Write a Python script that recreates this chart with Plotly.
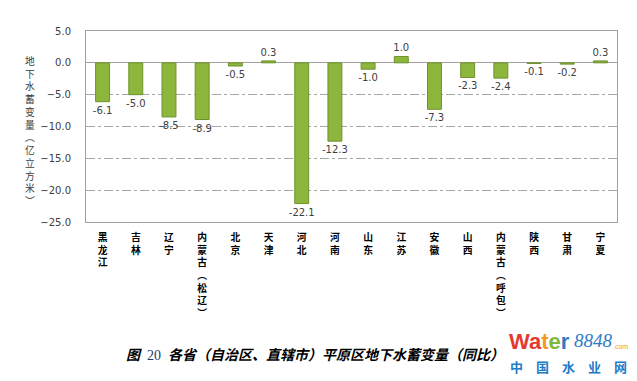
import plotly.graph_objects as go

categories = ["黑龙江", "吉林", "辽宁", "内蒙古︵松辽︶", "北京", "天津", "河北", "河南",
              "山东", "江苏", "安徽", "山西", "内蒙古︵呼包︶", "陕西", "甘肃", "宁夏"]
values = [-6.1, -5.0, -8.5, -8.9, -0.5, 0.3, -22.1, -12.3,
          -1.0, 1.0, -7.3, -2.3, -2.4, -0.1, -0.2, 0.3]
y_title = "地下水蓄变量︵亿立方米︶"
caption_pre = "图\u2002"
caption_num = "20"
caption_text = "\u2002各省（自治区、直辖市）平原区地下水蓄变量（同比）"

tick_labels = ["<b>" + "<br>".join(list(c)) + "</b>" for c in categories]

fig = go.Figure()
fig.add_trace(go.Bar(
    x=list(range(len(categories))),
    y=values,
    marker=dict(color="#8DB63C", line=dict(color="#6F922C", width=1)),
    text=[f"{v:.1f}" for v in values],
    textposition="outside",
    constraintext="none",
    textfont=dict(family="DejaVu Sans", size=10, color="#404040"),
    cliponaxis=False,
    width=0.42,
))

fig.update_layout(
    width=637, height=381,
    margin=dict(l=86, r=20, t=31, b=159),
    plot_bgcolor="white", paper_bgcolor="white",
    showlegend=False,
    xaxis=dict(
        tickmode="array", tickvals=list(range(len(categories))), ticktext=tick_labels,
        tickfont=dict(family="Noto Sans CJK SC", size=9.8, color="#000000"),
        range=[-0.5, len(categories) - 0.5],
        showline=True, linecolor="#A0A0A0", mirror=True, linewidth=1,
        showgrid=False, ticks="", zeroline=False, automargin=False,
        ticklabelstandoff=6,
    ),
    yaxis=dict(
        range=[-25, 5], dtick=5, tickformat=".1f",
        tickfont=dict(family="DejaVu Sans", size=10, color="#404040"),
        showline=True, linecolor="#A0A0A0", mirror=True, linewidth=1,
        showgrid=True, gridcolor="#A6A6A6", griddash="dashdot", gridwidth=1,
        zeroline=True, zerolinecolor="#A0A0A0", zerolinewidth=1,
        ticks="", automargin=False, ticklabelstandoff=12,
    ),
)

# vertical y-axis title, one character per line
fig.add_annotation(
    text="<br>".join(list(y_title)), xref="paper", yref="paper", x=-0.105, y=0.476,
    xanchor="center", yanchor="middle", showarrow=False,
    font=dict(family="Noto Sans CJK SC", size=9.8, color="#404040"),
)

# caption
fig.add_annotation(
    text=f"<b><i>{caption_pre}</i></b><span style='font-family:Liberation Serif;color:#1F3A6B'>{caption_num}</span><b><i>{caption_text}</i></b>",
    xref="paper", yref="paper", x=0.431, y=0, yshift=-132,
    xanchor="center", yanchor="middle", showarrow=False,
    font=dict(family="Noto Sans CJK SC", size=14, color="#000000"),
)

# watermark logo
fig.add_annotation(
    text="<b><span style='color:#E53A2F'>Wa</span><span style='color:#F39A1E'>t</span>"
         "<span style='color:#7DB93C'>e</span><span style='color:#2C7BC4'>r</span></b>",
    xref="paper", yref="paper", x=0, y=0, xshift=421, yshift=-119,
    xanchor="left", yanchor="middle", showarrow=False,
    font=dict(family="Liberation Sans", size=22),
)
fig.add_annotation(
    text="<i>8848</i>", xref="paper", yref="paper", x=0, y=0, xshift=486, yshift=-118,
    xanchor="left", yanchor="middle", showarrow=False,
    font=dict(family="Liberation Serif", size=19, color="#2C7BC4"),
)
fig.add_annotation(
    text=".com", xref="paper", yref="paper", x=0, y=0, xshift=525, yshift=-124,
    xanchor="left", yanchor="middle", showarrow=False,
    font=dict(family="Liberation Sans", size=7, color="#F39A1E"),
)
fig.add_annotation(
    text="<b>" + "\u2003".join(list("中国水业网")) + "</b>",
    xref="paper", yref="paper", x=0, y=0, xshift=422, yshift=-144,
    xanchor="left", yanchor="middle", showarrow=False,
    font=dict(family="Noto Sans CJK SC", size=13, color="#1E7BC8"),
)

fig.write_html("out.html", post_script="document.body.style.margin='0';",
               config={"displayModeBar": False})
